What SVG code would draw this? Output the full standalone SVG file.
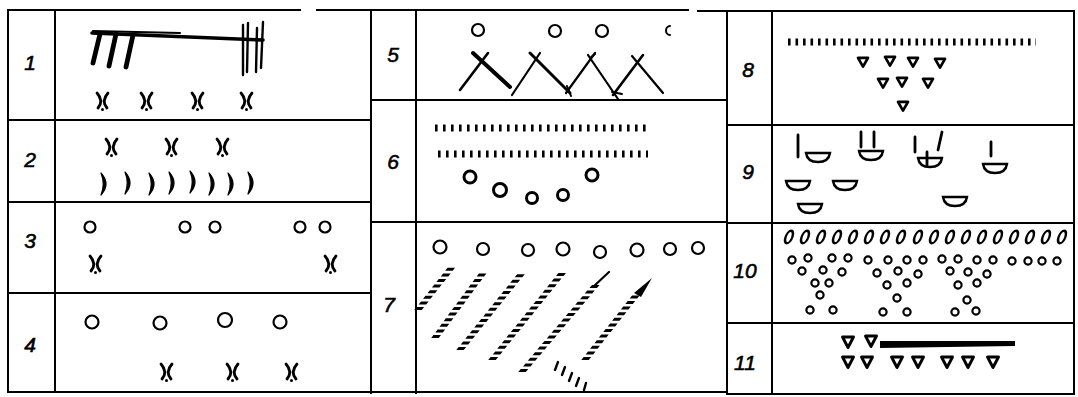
<svg xmlns="http://www.w3.org/2000/svg" width="1078" height="397" viewBox="0 0 1078 397">
<style>
.ln{stroke:#000;stroke-width:2;fill:none;stroke-linecap:square}
.n{font-family:"Liberation Sans",Arial,sans-serif;font-style:italic;font-size:21px;text-anchor:middle;fill:#000;stroke:#000;stroke-width:0.6}
.s{stroke:#000;fill:none;stroke-linecap:round;stroke-linejoin:round}
.c{fill:none;stroke:#000;stroke-width:2.2}
.ct{fill:none;stroke:#000;stroke-width:3}
.cs{fill:none;stroke:#000;stroke-width:2.2}
.h{stroke:#000;fill:none}
.band{stroke:#000;fill:none;stroke-width:7.5;stroke-dasharray:3 2.6}
</style>
<defs>
<g id="bx" class="s">
<path d="M-6,-8 Q1,0 -5,7" stroke-width="2.8"/>
<path d="M5,-8 Q-2,0 4,7" stroke-width="2.8"/>
<circle cx="-0.5" cy="8.5" r="1.5" fill="#000" stroke="none"/>
</g>
<path id="cr" d="M-3,-11 Q7,0 -3,11 Q1.5,0 -3,-11 Z" fill="#000" stroke="#000" stroke-width="1.2" stroke-linejoin="round"/>
<path id="tri" d="M-5,-4.2 H5 L0,4.6 Z" fill="none" stroke="#000" stroke-width="2.7" stroke-linejoin="round"/>
<path id="tri2" d="M-5.5,-5 H5.5 L0,5.5 Z" fill="none" stroke="#000" stroke-width="2.9" stroke-linejoin="round"/>
<path id="bowl" d="M-12,-4 H12 C11,3 6,5 0,5 C-6,5 -11,3 -12,-4 Z" fill="none" stroke="#000" stroke-width="2.4"/>
<ellipse id="ov" rx="3.4" ry="6.3" transform="skewX(-18)" fill="none" stroke="#000" stroke-width="2.4"/>
</defs>

<g id="table">
<path class="ln" d="M8,10 H300 M317,10 H688 M698,11 H1074"/>
<path class="ln" d="M8,10 V392 H727 M55,10 V392 M8,120 H371 M8,202 H371 M8,293 H371"/>
<path class="ln" d="M371,10 V393 M416,11 V393 M371,100 H727 M371,222 H727"/>
<path class="ln" d="M727,11 V394 H1074 M772,11 V394 M1074,11 V394 M727,125 H1074 M727,223 H1074 M727,323 H1074"/>
</g>

<g id="labels">
<text class="n" x="30" y="70">1</text>
<text class="n" x="30" y="167">2</text>
<text class="n" x="30" y="248">3</text>
<text class="n" x="30" y="352">4</text>
<text class="n" x="393" y="62">5</text>
<text class="n" x="393" y="169">6</text>
<text class="n" x="389" y="312">7</text>
<text class="n" x="748" y="77">8</text>
<text class="n" x="748" y="179">9</text>
<text class="n" x="745" y="278">10</text>
<text class="n" x="745" y="370">11</text>
</g>

<g id="row1">
<path class="s" d="M92,33 L263,40" stroke-width="3.6"/>
<path class="s" d="M93,31 L180,33" stroke-width="2"/>
<path class="s" d="M100,34 L93,63 M116,34 L109,66 M133,35 L126,67" stroke-width="4.8"/>
<path class="s" d="M243,25 L243,75 M248,23 L247,72 M257,28 L256,72 M263,22 L261,68" stroke-width="2.4"/>
<use href="#bx" x="103" y="101"/>
<use href="#bx" x="147" y="101"/>
<use href="#bx" x="198" y="101"/>
<use href="#bx" x="247" y="101"/>
</g>

<g id="row2">
<use href="#bx" x="112" y="147"/>
<use href="#bx" x="172" y="147"/>
<use href="#bx" x="223" y="147"/>
<use href="#cr" x="104" y="184"/>
<use href="#cr" x="128" y="183"/>
<use href="#cr" x="152" y="184"/>
<use href="#cr" x="172" y="183"/>
<use href="#cr" x="193" y="182"/>
<use href="#cr" x="212" y="184"/>
<use href="#cr" x="231" y="184"/>
<use href="#cr" x="251" y="183"/>
</g>

<g id="row3">
<circle class="c" cx="90" cy="227" r="5.5"/>
<circle class="c" cx="185" cy="227" r="5.5"/>
<circle class="c" cx="215" cy="227" r="5.5"/>
<circle class="c" cx="300" cy="227" r="5.5"/>
<circle class="c" cx="325" cy="227" r="5.5"/>
<use href="#bx" x="96" y="264"/>
<use href="#bx" x="331" y="264"/>
</g>

<g id="row4">
<circle class="c" cx="92" cy="322" r="6.5"/>
<circle class="c" cx="160" cy="323" r="6.5"/>
<circle class="c" cx="225" cy="320" r="7"/>
<circle class="c" cx="280" cy="322" r="6.5"/>
<use href="#bx" x="167" y="372"/>
<use href="#bx" x="233" y="372"/>
<use href="#bx" x="292" y="372"/>
</g>

<g id="row5">
<circle class="c" cx="478" cy="30" r="6"/>
<circle class="c" cx="555" cy="31" r="6"/>
<circle class="c" cx="602" cy="31" r="6"/>
<path class="s" d="M670,26 A4,4.5 0 1 0 670,35" stroke-width="2"/>
<path class="s" d="M460,90 L488,53" stroke-width="2.6"/>
<path class="s" d="M473,53 L510,87" stroke-width="4"/>
<path class="s" d="M512,95 L540,53" stroke-width="2.2"/>
<path class="s" d="M530,53 L570,93" stroke-width="3"/>
<path class="s" d="M566,93 L595,53" stroke-width="2.2"/>
<path class="s" d="M588,55 L618,99" stroke-width="2.2"/>
<path class="s" d="M613,95 L643,55" stroke-width="2.6"/>
<path class="s" d="M632,56 L663,93" stroke-width="2.2"/>
<path class="s" d="M567,86 L571,96 M612,92 L622,94 M590,58 L595,54" stroke-width="2"/>
</g>

<g id="row6">
<line class="h" x1="435" y1="128" x2="650" y2="128" stroke-width="7" stroke-dasharray="2.6 5.4"/>
<line class="h" x1="438" y1="154" x2="648" y2="154" stroke-width="7" stroke-dasharray="2.6 5.4"/>
<circle class="ct" cx="470" cy="177" r="6"/>
<circle class="ct" cx="500" cy="190" r="6.5"/>
<circle class="ct" cx="532" cy="198" r="5.5"/>
<circle class="ct" cx="563" cy="195" r="5.5"/>
<circle class="ct" cx="592" cy="175" r="6"/>
</g>

<g id="row7">
<circle class="c" cx="440" cy="247" r="6.5"/>
<circle class="c" cx="483" cy="249" r="6"/>
<circle class="c" cx="528" cy="250" r="6"/>
<circle class="c" cx="563" cy="249" r="6.5"/>
<circle class="c" cx="600" cy="252" r="6"/>
<circle class="c" cx="637" cy="250" r="6.5"/>
<circle class="c" cx="670" cy="249" r="6"/>
<circle class="c" cx="698" cy="248" r="6"/>
<line class="band" x1="0" y1="0" x2="0" y2="-43" stroke-width="6" transform="translate(418 310) skewX(-38.3)"/>
<line class="band" x1="0" y1="0" x2="0" y2="-65" transform="translate(435 338) skewX(-36.4)"/>
<line class="band" x1="0" y1="0" x2="0" y2="-77" transform="translate(460 350) skewX(-38.8)"/>
<line class="band" x1="0" y1="0" x2="0" y2="-88" transform="translate(492 360) skewX(-38.9)"/>
<line class="band" x1="0" y1="0" x2="0" y2="-88" transform="translate(522 372) skewX(-40.3)"/>
<path class="s" d="M593,287 L609,272" stroke-width="2.2"/>
<line class="band" x1="0" y1="0" x2="0" y2="-66" transform="translate(585 360) skewX(-38.2)"/>
<polygon points="634,293 652,278 641,297" fill="#000"/>
<path class="s" d="M558,362 L555,370 M565,367 L562,375 M572,373 L569,381 M579,378 L576,386 M586,383 L584,390" stroke-width="2.4"/>
</g>

<g id="row8">
<line class="h" x1="788" y1="42" x2="1036" y2="42" stroke-width="7" stroke-dasharray="2.6 4.9"/>
<use href="#tri" x="863" y="62"/>
<use href="#tri" x="890" y="61"/>
<use href="#tri" x="913" y="62"/>
<use href="#tri" x="940" y="63"/>
<use href="#tri" x="883" y="83"/>
<use href="#tri" x="902" y="82"/>
<use href="#tri" x="928" y="83"/>
<use href="#tri" x="903" y="106"/>
</g>

<g id="row9">
<use href="#bowl" x="818" y="157"/>
<use href="#bowl" x="871" y="155"/>
<use href="#bowl" x="930" y="162"/>
<use href="#bowl" x="995" y="168"/>
<use href="#bowl" x="798" y="185"/>
<use href="#bowl" x="845" y="185"/>
<use href="#bowl" x="810" y="208"/>
<use href="#bowl" x="955" y="201"/>
<path class="s" d="M798,135 L798,157 M861,132 L861,147 M874,132 L874,147 M915,137 L915,152 M942,132 L938,150 M927,152 L927,165 M991,142 L991,156" stroke-width="2.8"/>
</g>

<g id="row10">
<use href="#ov" x="789" y="237"/>
<use href="#ov" x="805" y="237"/>
<use href="#ov" x="821" y="237"/>
<use href="#ov" x="837" y="237"/>
<use href="#ov" x="853" y="237"/>
<use href="#ov" x="869" y="237"/>
<use href="#ov" x="885" y="237"/>
<use href="#ov" x="901" y="237"/>
<use href="#ov" x="918" y="237"/>
<use href="#ov" x="934" y="237"/>
<use href="#ov" x="950" y="237"/>
<use href="#ov" x="966" y="237"/>
<use href="#ov" x="982" y="237"/>
<use href="#ov" x="998" y="237"/>
<use href="#ov" x="1014" y="237"/>
<use href="#ov" x="1030" y="237"/>
<use href="#ov" x="1046" y="237"/>
<use href="#ov" x="1062" y="237"/>
<g class="cs">
<circle cx="792" cy="260" r="3.6"/><circle cx="808" cy="258" r="3.6"/><circle cx="832" cy="258" r="3.6"/><circle cx="848" cy="258" r="3.6"/>
<circle cx="868" cy="260" r="3.6"/><circle cx="888" cy="260" r="3.6"/><circle cx="907" cy="260" r="3.6"/><circle cx="923" cy="260" r="3.6"/>
<circle cx="942" cy="259" r="3.6"/><circle cx="958" cy="259" r="3.6"/><circle cx="977" cy="260" r="3.6"/><circle cx="993" cy="260" r="3.6"/>
<circle cx="1012" cy="261" r="3.6"/><circle cx="1028" cy="261" r="3.6"/><circle cx="1042" cy="261" r="3.6"/><circle cx="1057" cy="261" r="3.6"/>
<circle cx="802" cy="271" r="3.6"/><circle cx="823" cy="270" r="3.6"/><circle cx="842" cy="272" r="3.6"/>
<circle cx="877" cy="273" r="3.6"/><circle cx="898" cy="271" r="3.6"/><circle cx="918" cy="274" r="3.6"/>
<circle cx="950" cy="271" r="3.6"/><circle cx="968" cy="272" r="3.6"/><circle cx="987" cy="274" r="3.6"/>
<circle cx="815" cy="283" r="3.6"/><circle cx="829" cy="283" r="3.6"/>
<circle cx="887" cy="285" r="3.6"/><circle cx="907" cy="283" r="3.6"/>
<circle cx="958" cy="285" r="3.6"/><circle cx="977" cy="283" r="3.6"/>
<circle cx="820" cy="295" r="3.6"/><circle cx="897" cy="298" r="3.6"/><circle cx="967" cy="300" r="3.6"/>
<circle cx="810" cy="310" r="3.6"/><circle cx="833" cy="310" r="3.6"/>
<circle cx="883" cy="312" r="3.6"/><circle cx="907" cy="312" r="3.6"/>
<circle cx="955" cy="312" r="3.6"/><circle cx="976" cy="311" r="3.6"/>
</g>
</g>

<g id="row11">
<use href="#tri2" x="848" y="342"/>
<use href="#tri2" x="871" y="341"/>
<polygon points="880,341 1015,341 1015,346 880,348" fill="#000"/>
<use href="#tri2" x="848" y="362"/>
<use href="#tri2" x="867" y="362"/>
<use href="#tri2" x="897" y="362"/>
<use href="#tri2" x="918" y="362"/>
<use href="#tri2" x="947" y="362"/>
<use href="#tri2" x="968" y="362"/>
<use href="#tri2" x="993" y="362"/>
</g>
</svg>
